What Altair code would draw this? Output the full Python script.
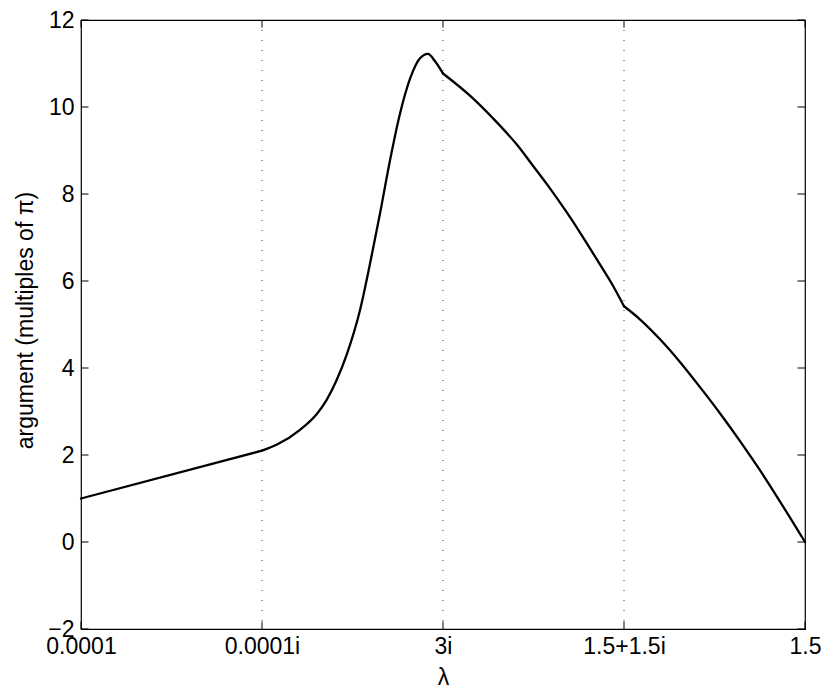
import altair as alt
import pandas as pd

# x positions along the path (segments between the lambda points), argument values (multiples of pi)
x_vals = [0.0, 1.0, 1.083, 1.210, 1.304, 1.359, 1.410, 1.470, 1.541, 1.597, 1.652, 1.707,
          1.762, 1.818, 1.873, 1.917, 1.956, 2.0, 2.149, 2.276, 2.409, 2.497, 2.591,
          2.685, 2.773, 2.867, 2.939, 3.0, 3.088, 3.199, 3.309, 3.420, 3.530, 3.641,
          3.751, 3.862, 4.0]
y_vals = [1.0, 2.1, 2.24, 2.58, 2.95, 3.28, 3.70, 4.33, 5.32, 6.40, 7.55, 8.77,
          9.84, 10.65, 11.12, 11.22, 11.05, 10.77, 10.26, 9.74, 9.13, 8.65, 8.13,
          7.57, 7.01, 6.38, 5.89, 5.42, 5.12, 4.66, 4.14, 3.56, 2.96, 2.32,
          1.65, 0.93, 0.0]

x_ticks = [0, 1, 2, 3, 4]
x_labels = ["0.0001", "0.0001i", "3i", "1.5+1.5i", "1.5"]
y_ticks = [-2, 0, 2, 4, 6, 8, 10, 12]
grid_x = [1, 2, 3]

W, H = 724, 609
FONT = "Liberation Sans"
FS = 23

# split the path into its four segments (shared endpoints) so each is smoothed on its own
rows = []
for seg in range(4):
    for xv, yv in zip(x_vals, y_vals):
        if seg <= xv <= seg + 1:
            rows.append({"seg": seg, "x": xv, "y": yv})
curve = pd.DataFrame(rows)
xt = pd.DataFrame({"x": x_ticks})
yt = pd.DataFrame({"y": y_ticks})
gx = pd.DataFrame({"x": grid_x})

label_expr = "[" + ",".join(f"'{l}'" for l in x_labels) + "][round(datum.value)]"

xscale = alt.Scale(domain=[0, 4], nice=False, zero=False)
yscale = alt.Scale(domain=[-2, 12], nice=False, zero=False)

xaxis = alt.Axis(values=x_ticks, labelExpr=label_expr, ticks=False, domain=False, grid=False,
                 labelFont=FONT, labelFontSize=FS, labelColor="black", labelPadding=6,
                 labelOverlap=False, labelFlush=False,
                 title="λ", titleFont=FONT, titleFontSize=FS, titleFontWeight="normal",
                 titleColor="black", titleX=W / 2, titleY=48, titleBaseline="middle",
                 titleAlign="center")
yaxis = alt.Axis(values=y_ticks, ticks=False, domain=False, grid=False,
                 labelFont=FONT, labelFontSize=FS, labelColor="black", labelPadding=7,
                 labelOverlap=False, labelFlush=False,
                 title="argument (multiples of π)", titleFont=FONT, titleFontSize=FS,
                 titleFontWeight="normal", titleColor="black", titleX=-56, titleY=300,
                 titleAngle=270, titleAlign="center", titleBaseline="middle")

line = alt.Chart(curve).mark_line(color="black", strokeWidth=2.3, interpolate="monotone",
                                  strokeCap="round", strokeJoin="round").encode(
    x=alt.X("x:Q", scale=xscale, axis=xaxis),
    y=alt.Y("y:Q", scale=yscale, axis=yaxis),
    detail="seg:N",
    order="x:Q",
)

grid = alt.Chart(gx).mark_rule(color="#333333", strokeWidth=1, strokeDash=[1, 9]).encode(
    x=alt.X("x:Q", scale=xscale), y=alt.value(0), y2=alt.value(H)
)

tb = alt.Chart(xt).mark_rule(color="black", strokeWidth=1).encode(
    x=alt.X("x:Q", scale=xscale), y=alt.value(H), y2=alt.value(H - 7.5)
)
tt = alt.Chart(xt).mark_rule(color="black", strokeWidth=1).encode(
    x=alt.X("x:Q", scale=xscale), y=alt.value(0), y2=alt.value(7.5)
)
tl = alt.Chart(yt).mark_rule(color="black", strokeWidth=1).encode(
    y=alt.Y("y:Q", scale=yscale), x=alt.value(0), x2=alt.value(7.5)
)
tr = alt.Chart(yt).mark_rule(color="black", strokeWidth=1).encode(
    y=alt.Y("y:Q", scale=yscale), x=alt.value(W), x2=alt.value(W - 7.5)
)

chart = alt.layer(grid, tb, tt, tl, tr, line).properties(
    width=W, height=H,
    autosize=alt.AutoSizeParams(type="none"),
    padding={"left": 73, "top": 12, "right": 17, "bottom": 59},
    background="white",
).configure_view(stroke="black", strokeWidth=1.2)

chart.save("out.html", embed_options={"renderer": "svg", "actions": False})
